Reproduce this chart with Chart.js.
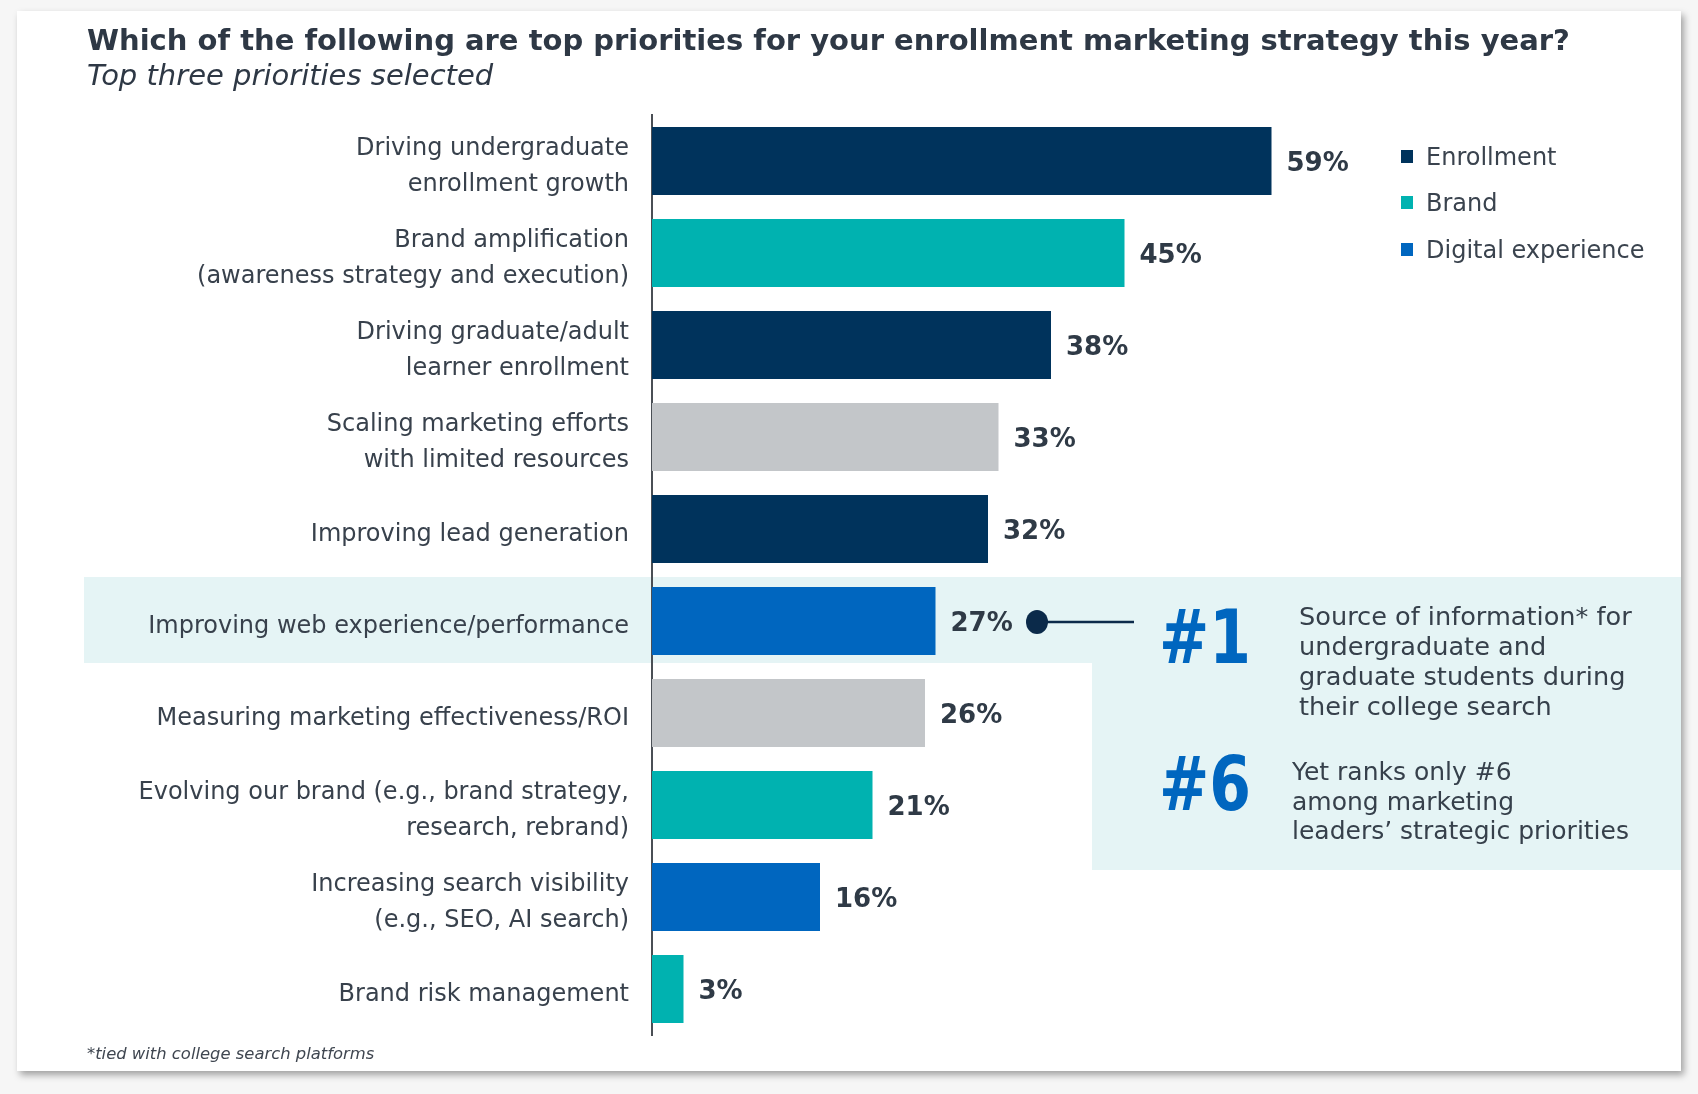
<!DOCTYPE html>
<html>
<head>
<meta charset="utf-8">
<script src="https://cdn.jsdelivr.net/npm/chart.js@4.4.1/dist/chart.umd.min.js"></script>
<style>
  html,body{margin:0;padding:0;background:#f6f6f6;font-family:"DejaVu Sans",Verdana,sans-serif;}
  #wrap{position:relative;width:1698px;height:1094px;overflow:hidden;}
  .abs{position:absolute;white-space:nowrap;}
  #card{left:17px;top:11px;width:1664px;height:1060px;background:#fff;box-shadow:3px 4px 7px rgba(0,0,0,.35);}
  #band{left:84px;top:577px;width:1597px;height:86px;background:#e5f4f5;}
  #box{left:1092px;top:577px;width:589px;height:293px;background:#e5f4f5;}
  #c{position:absolute;left:0;top:0;}
  #title{left:87px;top:23px;font-size:29px;line-height:34px;font-weight:bold;color:#2e3845;}
  #sub{left:87px;top:58px;font-size:29px;line-height:34px;font-style:italic;color:#2e3845;}
  .leg{font-size:24px;line-height:30px;color:#3a434e;}
  .sw{width:12px;height:13px;}
  .big{font-size:75px;line-height:75px;font-weight:bold;color:#0066bf;transform:scaleX(.8);transform-origin:0 0;}
  .note{font-size:25.6px;line-height:30px;color:#36404b;}
  #foot{left:87px;top:1044px;font-size:16.4px;line-height:20px;font-style:italic;color:#3f4650;}
</style>
</head>
<body>
<div id="wrap">
  <div id="card" class="abs"></div>
  <div id="band" class="abs"></div>
  <div id="box" class="abs"></div>
  <canvas id="c" width="1698" height="1094"></canvas>
  <div id="title" class="abs">Which of the following are top priorities for your enrollment marketing strategy this year?</div>
  <div id="sub" class="abs">Top three priorities selected</div>
  <div id="legend"></div>
  <div class="abs big" style="left:1159px;top:600px">#1</div>
  <div class="abs big" style="left:1159px;top:747px">#6</div>
  <div class="abs note" style="left:1299px;top:601px">Source of information* for<br>undergraduate and<br>graduate students during<br>their college search</div>
  <div class="abs note" style="left:1292px;top:757px;font-size:25px;line-height:29.5px">Yet ranks only #6<br>among marketing<br>leaders’ strategic priorities</div>
  <div id="foot" class="abs">*tied with college search platforms</div>
</div>
<script>
const categories = [
  ['Driving undergraduate','enrollment growth'],
  ['Brand amplification','(awareness strategy and execution)'],
  ['Driving graduate/adult','learner enrollment'],
  ['Scaling marketing efforts','with limited resources'],
  'Improving lead generation',
  'Improving web experience/performance',
  'Measuring marketing effectiveness/ROI',
  ['Evolving our brand (e.g., brand strategy,','research, rebrand)'],
  ['Increasing search visibility','(e.g., SEO, AI search)'],
  'Brand risk management'
];
const values = [59, 45, 38, 33, 32, 27, 26, 21, 16, 3];
const groups = ['Enrollment','Brand','Enrollment','Other','Enrollment','Digital experience','Other','Brand','Digital experience','Brand'];
const legendItems = ['Enrollment','Brand','Digital experience'];
const groupColors = {
  'Enrollment':'#00335c',
  'Brand':'#00b2b0',
  'Digital experience':'#0066bf',
  'Other':'#c3c6c9'
};

// legend (html)
const legTops = [141.5, 187.5, 234.5];
const leg = document.getElementById('legend');
legendItems.forEach((g,i)=>{
  leg.insertAdjacentHTML('beforeend',
    `<div class="abs sw" style="left:1401px;top:${legTops[i]+8.5}px;background:${groupColors[g]}"></div>`+
    `<div class="abs leg" style="left:1426px;top:${legTops[i]}px">${g}</div>`);
});

const valueLabels = {
  id:'valueLabels',
  afterDatasetsDraw(chart){
    const ctx = chart.ctx;
    const meta = chart.getDatasetMeta(0);
    ctx.save();
    ctx.font = 'bold 26px "DejaVu Sans"';
    ctx.fillStyle = '#2f3a46';
    ctx.textBaseline = 'middle';
    ctx.textAlign = 'left';
    meta.data.forEach((bar,i)=>{
      ctx.fillText(values[i]+'%', bar.x + 15, bar.y + 3.5);
    });
    // callout from the web-experience bar
    const hi = meta.data[5];
    const dx = 1037, dy = hi.y + 1;
    ctx.strokeStyle = '#0b2a4a';
    ctx.lineWidth = 2.5;
    ctx.beginPath(); ctx.moveTo(dx, dy); ctx.lineTo(1134, dy); ctx.stroke();
    ctx.fillStyle = '#0b2a4a';
    ctx.beginPath(); ctx.ellipse(dx, dy, 11, 12, 0, 0, Math.PI*2); ctx.fill();
    ctx.restore();
  }
};

new Chart(document.getElementById('c'), {
  type:'bar',
  data:{
    labels: categories,
    datasets:[{
      data: values,
      backgroundColor: groups.map(g=>groupColors[g]),
      barPercentage: 68/92,
      categoryPercentage: 1
    }]
  },
  options:{
    indexAxis:'y',
    responsive:false,
    animation:false,
    devicePixelRatio:1,
    layout:{ padding:{ top:115, bottom:59, left:0, right:206 } },
    plugins:{ legend:{display:false}, tooltip:{enabled:false} },
    scales:{
      x:{ display:false, min:0, max:80 },
      y:{
        afterFit(s){ s.width = 652; },
        grid:{ display:false, drawTicks:false },
        border:{ display:true, color:'#4a4f55', width:2 },
        ticks:{
          color:'#38414c',
          padding:23,
          labelOffset:5.5,
          font:{ family:'"DejaVu Sans"', size:24, lineHeight:1.5 }
        }
      }
    }
  },
  plugins:[valueLabels]
});
</script>
</body>
</html>
